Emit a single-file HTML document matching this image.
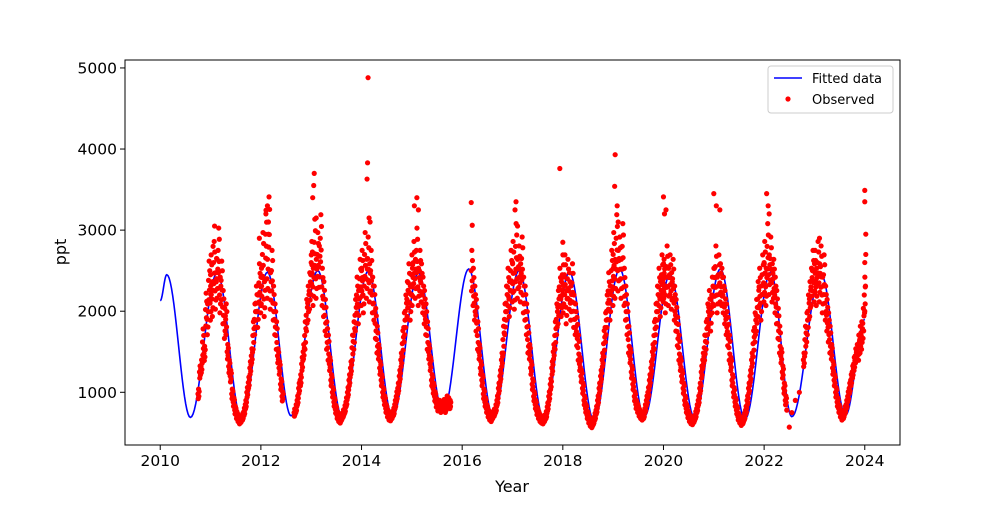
<!DOCTYPE html>
<html><head><meta charset="utf-8"><style>
html,body{margin:0;padding:0;background:#fff;}
svg text{font-family:"DejaVu Sans","Liberation Sans",sans-serif;fill:#000;}
</style></head><body>
<svg id="chart" width="1000" height="500" viewBox="0 0 1000 500" xmlns="http://www.w3.org/2000/svg">
<rect width="1000" height="500" fill="#fff"/>
<g id="plot"></g>
<g id="axes"></g>
<text x="512" y="492" font-size="16" text-anchor="middle">Year</text>
<text x="0" y="0" font-size="16" text-anchor="middle" transform="translate(66,252) rotate(-90)">ppt</text>
<g>
<rect x="768" y="66" width="125" height="47" rx="3" fill="#fff" fill-opacity="0.8" stroke="#ccc"/>
<line x1="774" y1="78" x2="802" y2="78" stroke="#0000ff" stroke-width="1.6"/>
<text x="812" y="83" font-size="13">Fitted data</text>
<circle cx="788" cy="99" r="2.6" fill="#ff0000"/>
<text x="812" y="104" font-size="13">Observed</text>
</g>
</svg>
<script>
const xTicks = [2010, 2012, 2014, 2016, 2018, 2020, 2022, 2024];
const yTicks = [1000, 2000, 3000, 4000, 5000];
const fitYears = [2010.0, 2010.13, 2010.6, 2011.13, 2011.62, 2012.13, 2012.6, 2013.13, 2013.62, 2014.13, 2014.62, 2015.13, 2015.62, 2016.13, 2016.62, 2017.13, 2017.62, 2018.13, 2018.62, 2019.13, 2019.62, 2020.13, 2020.62, 2021.13, 2021.62, 2022.13, 2022.55, 2023.13, 2023.62, 2024.0];
const fitValues = [2130, 2450, 690, 2470, 660, 2480, 710, 2500, 690, 2490, 700, 2470, 760, 2520, 700, 2500, 680, 2480, 650, 2520, 700, 2450, 680, 2520, 670, 2480, 700, 2460, 720, 1900];
const obsStarts = [2010.75, 2011.0, 2012.0, 2012.66, 2013.0, 2014.0, 2015.0, 2016.18, 2017.0, 2018.0, 2019.0, 2020.0, 2021.0, 2022.0, 2022.78, 2023.0];
const obsValues = [
[980,1250,1320,1620,1480,2020,1900,2380,2100],
[2450,2150,2600,2250,2400,2750,2200,2380,2050,1850,1900,1500,1320,1200,980,880,780,720,680,650,670,700,760,850,1000,1120,1300,1450,1700,1900,2100,2000,2350,2200],
[2300,2700,2150,2950,2400,3100,2250,2500,2100,1900,1700,1450,1300,1100,950],
[750,800,900,1050,1150,1350,1500,1700,1950,2100,2250,2450],
[2600,2300,2850,2400,2700,2550,2900,2300,2150,1950,1700,1550,1350,1150,1000,880,790,720,680,660,700,740,790,880,1000,1150,1300,1550,1700,1950,2200,2050,2400,2300],
[2500,2200,2700,2400,2650,2350,2500,2200,2100,1850,1650,1500,1300,1150,1000,900,800,740,700,690,720,760,850,950,1050,1200,1400,1600,1800,2000,2150,2350,2100,2450],
[2300,2600,2400,2750,2300,2500,2350,2200,2050,1900,1700,1500,1350,1150,1050,950,870,820,850,800,830,860,800,900,880,850],
[2500,2300,2100,1950,1700,1500,1300,1150,980,880,800,740,700,680,720,750,800,900,1050,1200,1400,1650,1900,2100,2300,2150,2500,2350],
[2600,2250,2800,2400,2550,2350,2650,2200,2100,1900,1650,1500,1300,1100,950,850,770,720,680,660,650,680,720,820,950,1100,1300,1500,1700,1900,2050,2300,2150,2450],
[2200,2450,2050,2400,2250,2100,2350,2000,1900,1750,1550,1350,1200,1050,900,800,720,660,620,600,640,700,780,900,1050,1200,1400,1600,1800,2000,2250,2100,2500,2300],
[2700,2400,2900,2500,2650,2400,2800,2300,2100,1900,1650,1450,1250,1100,950,850,800,750,720,700,720,800,900,1000,1150,1300,1500,1700,1900,2100,2300,2150,2450,2350],
[2400,2200,2550,2300,2450,2250,2400,2100,1950,1750,1550,1350,1200,1050,900,800,730,680,650,640,670,720,800,900,1050,1250,1400,1550,1700,1900,2050,1950,2200,2300],
[2300,2550,2200,2450,2350,2300,2200,2050,1900,1750,1550,1350,1150,1000,880,780,700,660,630,650,700,780,900,1050,1200,1400,1600,1800,1950,2150,2300,2100,2450,2350],
[2600,2300,2800,2450,2650,2350,2400,2200,2050,1850,1650,1450,1250,1050,900],
[1400,1650,1800,2000,2150,2300,2500,2350],
[2500,2300,2600,2350,2550,2200,2450,2100,1950,1800,1650,1500,1300,1150,1000,880,800,740,700,720,780,850,950,1050,1150,1250,1350,1450,1500,1550,1650,1700,1850,2200]
];
const obsStep = 0.03;
const extraYears = [2011.08,2011.05,2011.12,2012.13,2012.1,2012.15,2011.97,2013.06,2013.05,2013.03,2013.1,2014.13,2014.12,2014.11,2014.15,2014.17,2015.1,2015.05,2015.13,2016.18,2016.2,2017.07,2017.05,2017.1,2017.94,2018.0,2019.04,2019.03,2019.08,2019.1,2020.0,2020.02,2020.05,2021.0,2021.12,2021.05,2022.05,2022.08,2022.1,2023.1,2024.0,2024.0,2024.02,2024.02,2024.0,2024.01,2024.0,2022.45,2022.5,2022.55,2022.62,2022.7];
const extraValues = [3050,2800,2650,3300,3200,2950,2900,3700,3550,3400,3150,4880,3830,3630,3150,3100,3400,3300,3250,3340,3060,3350,3250,3050,3760,2850,3930,3540,3300,3100,3410,3200,3250,3450,3250,3300,3450,3300,3200,2900,3490,3350,2950,2700,2600,2300,2000,780,570,750,900,1000];

const L=125,R=900,T=60,B=445;
const xMin=2009.3,xMax=2024.7,yMin=350,yMax=5098;
const sx=v=>L+(v-xMin)/(xMax-xMin)*(R-L);
const sy=v=>B-(v-yMin)/(yMax-yMin)*(B-T);
const NS="http://www.w3.org/2000/svg";
const plot=document.getElementById('plot');
const axes=document.getElementById('axes');
function mk(tag,attrs,parent){const e=document.createElementNS(NS,tag);for(const k in attrs)e.setAttribute(k,attrs[k]);parent.appendChild(e);return e;}

let d='';
for(let i=0;i<fitYears.length-1;i++){
  const x0=fitYears[i],x1=fitYears[i+1],v0=fitValues[i],v1=fitValues[i+1];
  for(let k=0;k<=20;k++){
    const f=k/20,x=x0+(x1-x0)*f,v=v0+(v1-v0)*(1-Math.cos(Math.PI*f))/2;
    d+=(d?'L':'M')+sx(x).toFixed(2)+','+sy(v).toFixed(2);
  }
}
const line=mk('path',{d:d,fill:'none',stroke:'#0000ff','stroke-width':1.6},plot);



const sg=mk('g',{},plot);


const spreadMul=[1,0.9,1.1,0.95,1.05];
obsStarts.forEach((s,si)=>{
  obsValues[si].forEach((v,i)=>{
    spreadMul.forEach((m,j)=>{
      const vv = v>1500 ? v*m : v*(1+(m-1)*0.6);
      const c=mk('circle',{cx:sx(s+i*obsStep+j*0.006).toFixed(2),cy:sy(vv).toFixed(2),r:2.6,fill:'#ff0000'},sg);
      
      
    });
  });
});
extraYears.forEach((y,i)=>{
  const c=mk('circle',{cx:sx(y).toFixed(2),cy:sy(extraValues[i]).toFixed(2),r:2.6,fill:'#ff0000'},sg);
  
  
});

const fr=mk('rect',{x:L,y:T,width:R-L,height:B-T,fill:'none',stroke:'#000','stroke-width':1},axes);


xTicks.forEach(t=>{
  const x=sx(t);
  const tl=mk('line',{x1:x,y1:B,x2:x,y2:B+5,stroke:'#000'},axes);
  
  
  const tx=mk('text',{x:x,y:B+21,'font-size':15.5,'text-anchor':'middle'},axes);
  tx.textContent=t;
  
  
});
yTicks.forEach(t=>{
  const y=sy(t);
  const tl=mk('line',{x1:L-5,y1:y,x2:L,y2:y,stroke:'#000'},axes);
  
  
  const tx=mk('text',{x:L-8,y:y+5.5,'font-size':15.5,'text-anchor':'end'},axes);
  tx.textContent=t;
  
  
});
</script>
</body></html>
